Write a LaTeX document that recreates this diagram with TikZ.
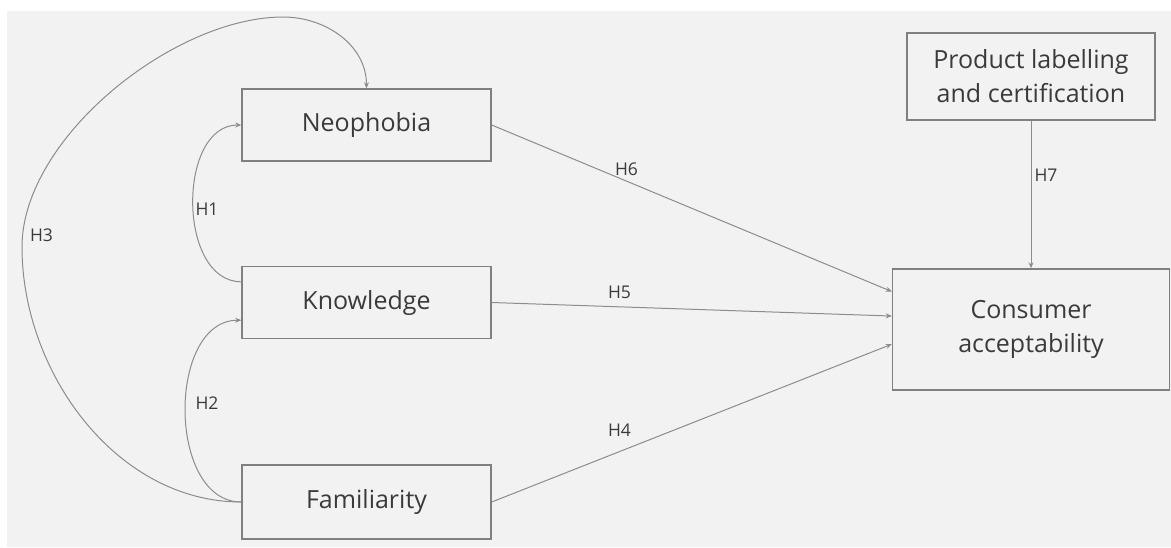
\documentclass[tikz,border=0pt]{standalone}
\usepackage{fontspec}
\setmainfont{Open Sans}
\usetikzlibrary{arrows.meta,calc}
\definecolor{bg}{HTML}{F2F2F2}
\definecolor{boxline}{HTML}{808080}
\definecolor{conline}{HTML}{8C8C8C}
\definecolor{txt}{HTML}{3A3A3A}
\begin{document}
\begin{tikzpicture}[x=1pt,y=-1pt,
  box/.style={draw=boxline, line width=1.4pt, text=txt, align=center, inner sep=0pt,
    font=\fontsize{25}{34}\selectfont},
  conn/.style={draw=conline, line width=1pt, -{Stealth[length=6pt,width=5pt]}},
  lab/.style={text=txt, inner sep=0pt, font=\fontsize{17.5}{20}\selectfont}]
\useasboundingbox (0,0) rectangle (1171,547);
\fill[bg] (7,11) rectangle (1171,547);
% boxes
\node[box, minimum width=249pt, minimum height=72pt] (N) at (366.5,125) {Neophobia};
\node[box, minimum width=249pt, minimum height=72pt] (K) at (366.5,302.5) {Knowledge};
\node[box, minimum width=249pt, minimum height=74pt] (F) at (366.5,502) {Familiarity};
\node[box, minimum width=248pt, minimum height=87pt] (P) at (1031,76.5) {Product labelling\\and certification};
\node[box, minimum width=277pt, minimum height=121pt] (C) at (1031,329.5) {Consumer\\acceptability};
% anchor points
\coordinate (c6) at ($(C.north west)!0.19!(C.south west)$);
\coordinate (c5) at ($(C.north west)!0.39!(C.south west)$);
\coordinate (c4) at ($(C.north west)!0.62!(C.south west)$);
\coordinate (k1) at ($(K.north west)+(0,16)$);
\coordinate (k2) at ($(K.south west)+(0,-19)$);
\coordinate (h3a) at (22,247);
\coordinate (h3b) at (283,17);
% connectors
\draw[conn] (N.east) -- (c6);
\draw[conn] (K.east) -- (c5);
\draw[conn] (F.east) -- (c4);
\draw[conn] (P.south) -- (C.north);
\draw[conn] (k1) to[out=180,in=180,looseness=1.05] (N.west);
\draw[conn] (F.west) to[out=180,in=180,looseness=1.05] (k2);
\draw[conn] (F.west) to[out=180,in=270,looseness=0.95] (h3a) to[out=90,in=180,looseness=0.8] (h3b) to[out=0,in=90] (N.north);
% labels
\node[lab] (l1) at (207,209) {H1};
\node[lab] (l2) at (207,403) {H2};
\node[lab] (l3) at (41.5,235) {H3};
\node[lab] (l4) at (619.5,430.5) {H4};
\node[lab] (l5) at (619.5,292) {H5};
\node[lab] (l6) at (626.5,169.5) {H6};
\node[lab] (l7) at (1046,175) {H7};
\end{tikzpicture}
\end{document}
